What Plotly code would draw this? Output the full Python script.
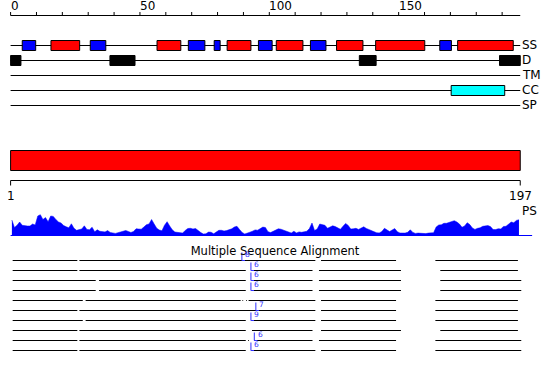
import plotly.graph_objects as go

# ---------------- data ----------------
SEQ_LEN = 197
TOP_TICK_LABELS = [0, 50, 100, 150]
TOP_MINOR_STEP = 10

TRACK_NAMES = ["SS", "D", "TM", "CC", "SP"]
HELIX = [(15.6, 26.7), (56.6, 65.8), (83.7, 92.9), (102.7, 113.0),
         (126.0, 136.2), (141.1, 160.1), (172.8, 194.3)]
STRAND = [(4.5, 9.7), (30.8, 36.8), (68.7, 75.1), (78.7, 81.0),
          (95.8, 101.1), (115.9, 121.9), (165.9, 170.4)]
DISORDER = [(0.0, 4.0), (38.4, 48.1), (134.8, 141.3), (189.0, 197.0)]
TRANSMEM = []
COILED_COIL = [(170.3, 191.0)]
SIGNAL_PEPTIDE = []

DOMAIN_START, DOMAIN_END = 1, 197
DOMAIN_LABELS = ["1", "197"]
PS_LABEL = "PS"
PS_SCORE = [
    16.0, 8.5, 10.7, 14.0, 10.7, 10.0, 10.0, 10.0, 12.0, 11.0,
    20.0, 21.3, 16.5, 18.4, 14.2, 20.0, 19.6, 16.5, 14.1, 13.0,
    10.5, 9.2, 8.2, 12.2, 7.8, 5.7, 6.0, 7.0, 10.2, 6.6,
    6.3, 8.8, 4.2, 6.2, 4.7, 4.7, 4.1, 5.4, 3.6, 3.1,
    2.6, 3.3, 4.0, 4.7, 5.5, 4.6, 3.5, 4.5, 7.2, 7.0,
    6.8, 8.9, 11.3, 12.0, 16.5, 12.0, 7.7, 6.0, 5.3, 10.8,
    14.3, 10.0, 6.2, 4.0, 3.8, 3.2, 2.9, 5.6, 7.5, 7.7,
    7.0, 7.5, 5.2, 3.5, 2.0, 2.2, 3.9, 3.8, 2.2, 3.6,
    5.7, 5.7, 5.0, 5.4, 6.2, 7.2, 9.0, 9.7, 6.5, 3.6,
    2.0, 3.3, 3.8, 4.8, 6.1, 5.8, 7.2, 8.9, 8.5, 4.3,
    3.4, 4.6, 5.6, 7.2, 6.8, 5.8, 5.4, 4.0, 3.0, 4.7,
    3.1, 4.1, 3.7, 4.2, 4.8, 7.4, 13.0, 5.5, 7.0, 12.0,
    11.4, 10.7, 7.7, 9.0, 10.2, 9.4, 7.7, 6.7, 9.8, 12.6,
    10.6, 6.9, 7.2, 7.7, 6.6, 7.6, 9.2, 7.6, 6.5, 5.1,
    3.8, 3.2, 3.1, 4.4, 7.7, 5.8, 4.4, 6.0, 7.4, 4.3,
    3.0, 3.0, 2.9, 3.7, 6.2, 3.6, 2.6, 2.9, 2.6, 3.0,
    2.4, 2.9, 3.0, 3.3, 9.0, 11.0, 11.2, 12.7, 12.7, 13.5,
    15.0, 15.3, 14.0, 11.9, 8.7, 10.1, 13.3, 11.4, 8.0, 6.6,
    7.7, 8.2, 9.7, 9.7, 10.4, 9.4, 6.5, 6.4, 7.3, 7.1,
    9.5, 9.7, 11.6, 14.0, 13.2, 15.6, 16.3,
]

MSA_TITLE = "Multiple Sequence Alignment"
MSA_SEGMENTS = [
    [(0.8, 25.8), (26.6, 117.8), (120.0, 149.0), (164.2, 196.1)],
    [(0.8, 25.8), (26.6, 90.9), (92.9, 116.7), (119.2, 150.9), (166.1, 196.1)],
    [(0.8, 32.9), (34.2, 90.9), (92.9, 116.7), (119.2, 150.9), (166.1, 197.4)],
    [(0.8, 32.9), (34.2, 90.9), (92.9, 116.7), (119.2, 150.9), (166.1, 197.4)],
    [(0.8, 27.9), (29.0, 88.9), (89.6, 89.9), (91.0, 91.3), (92.0, 117.8),
     (120.0, 149.0), (164.2, 196.1)],
    [(0.8, 25.8), (26.6, 117.8), (120.0, 149.0), (164.2, 196.1)],
    [(0.8, 27.9), (29.0, 90.9), (92.9, 117.8), (120.0, 149.0), (164.2, 196.1)],
    [(0.8, 25.8), (26.6, 90.9), (93.3, 116.7), (120.0, 150.9), (166.1, 196.1)],
    [(0.8, 25.8), (26.6, 90.9), (91.8, 92.1), (94.2, 116.7), (119.2, 149.0),
     (164.2, 197.4)],
    [(0.8, 25.8), (26.6, 90.9), (92.9, 117.8), (120.0, 149.0), (164.2, 197.4)],
]
# (row index, residue position, insertion length)
MSA_INSERTIONS = [(0, 89.4, 8), (1, 92.9, 6), (2, 92.9, 6), (3, 92.9, 6),
                  (5, 94.8, 7), (6, 92.9, 9), (8, 94.2, 6), (9, 92.9, 6)]

# ---------------- layout constants (pixels) ----------------
W, H = 550, 380
X0_PX, PX_PER_RES = 10.6, 2.587
RULER_Y, TICK_LEN = 15.5, 3.5
TRACK_Y0, TRACK_STEP, BOX_HALF = 45.5, 15, 5
DOMAIN_Y0, DOMAIN_Y1 = 150.5, 170.5
LOWER_RULER_Y, LOWER_TICK = 180.5, 5
PS_BOTTOM_PX, PS_TOP_PX = 236, 206
PS_BASELINE_END = 201.6
MSA_Y0, MSA_STEP = 260.5, 10
INS_H, INS_FOOT = 8, 1.2
FONT = "DejaVu Sans"

fig = go.Figure()


def lines(segs, color, yaxis="y", width=1):
    xs, ys = [], []
    for x0, y0, x1, y1 in segs:
        xs += [x0, x1, None]
        ys += [y0, y1, None]
    fig.add_trace(go.Scatter(x=xs, y=ys, mode="lines", yaxis=yaxis,
                             line=dict(color=color, width=width),
                             hoverinfo="skip", showlegend=False))


def label(x, y, text, xanchor="left", size=12, color="black", xshift=0):
    fig.add_annotation(x=x, y=y, xref="x", yref="y", text=text,
                       showarrow=False, xanchor=xanchor, yanchor="middle",
                       xshift=xshift, font=dict(family=FONT, size=size, color=color))


# top ruler
ruler = [(0, RULER_Y, SEQ_LEN, RULER_Y)]
ruler += [(t, RULER_Y, t, RULER_Y - TICK_LEN) for t in range(0, SEQ_LEN, TOP_MINOR_STEP)]
lines(ruler, "black")
for t in TOP_TICK_LABELS:
    label(t, 5.5, str(t), xshift=-2)

# feature tracks
track_y = {n: TRACK_Y0 + i * TRACK_STEP for i, n in enumerate(TRACK_NAMES)}
lines([(0, y, SEQ_LEN, y) for y in track_y.values()], "black")
for n, y in track_y.items():
    label(SEQ_LEN, y - 0.5, n)


def boxes(feats, track, color):
    y = track_y[track]
    for a, b in feats:
        fig.add_shape(type="rect", xref="x", yref="y", x0=a, x1=b,
                      y0=y - BOX_HALF, y1=y + BOX_HALF, fillcolor=color,
                      line=dict(color="black", width=1), layer="above")


boxes(HELIX, "SS", "#ff0000")
boxes(STRAND, "SS", "#0000ff")
boxes(DISORDER, "D", "#000000")
boxes(TRANSMEM, "TM", "#00ff00")
boxes(COILED_COIL, "CC", "#00ffff")
boxes(SIGNAL_PEPTIDE, "SP", "#ff00ff")

# domain bar and lower ruler
fig.add_shape(type="rect", xref="x", yref="y", x0=DOMAIN_START - 1, x1=DOMAIN_END,
              y0=DOMAIN_Y0, y1=DOMAIN_Y1, fillcolor="#ff0000",
              line=dict(color="black", width=1), layer="above")
lines([(DOMAIN_START - 1, LOWER_RULER_Y, DOMAIN_END, LOWER_RULER_Y),
       (DOMAIN_START - 1, LOWER_RULER_Y, DOMAIN_START - 1, LOWER_RULER_Y + LOWER_TICK),
       (DOMAIN_END, LOWER_RULER_Y, DOMAIN_END, LOWER_RULER_Y + LOWER_TICK)], "black")
label(DOMAIN_START - 1, 195.5, DOMAIN_LABELS[0], xanchor="center")
label(DOMAIN_END, 195.5, DOMAIN_LABELS[1], xanchor="center")
label(DOMAIN_END, 210.5, PS_LABEL)

# PS profile (own y axis, 1 unit = 1 px)
fig.add_trace(go.Scatter(x=[i + 0.5 for i in range(len(PS_SCORE))], y=PS_SCORE,
                         yaxis="y2", mode="lines", fill="tozeroy",
                         fillcolor="#0000ff", line=dict(color="#0000ff", width=0.5),
                         hoverinfo="skip", showlegend=False))
lines([(0, 0.5, PS_BASELINE_END, 0.5)], "#0000ff", yaxis="y2")

# multiple sequence alignment
msa = []
for r, segs in enumerate(MSA_SEGMENTS):
    y = MSA_Y0 + r * MSA_STEP
    msa += [(a, y, b, y) for a, b in segs]
lines(msa, "black")
ins = []
for r, pos, n in MSA_INSERTIONS:
    y = MSA_Y0 + r * MSA_STEP
    ins += [(pos, y, pos, y - INS_H), (pos, y, pos + INS_FOOT, y)]
    label(pos, y - 6, str(n), size=7.5, color="#3030ff", xshift=1.5)
lines(ins, "#3030ff")

fig.update_layout(
    width=W, height=H, autosize=False,
    margin=dict(l=0, r=0, t=0, b=0, pad=0),
    paper_bgcolor="white", plot_bgcolor="rgba(0,0,0,0)",
    xaxis=dict(range=[-X0_PX / PX_PER_RES, (W - X0_PX) / PX_PER_RES],
               visible=False, fixedrange=True),
    yaxis=dict(range=[H, 0], visible=False, fixedrange=True, domain=[0, 1]),
    yaxis2=dict(range=[0, PS_BOTTOM_PX - PS_TOP_PX], visible=False, anchor="x",
                domain=[(H - PS_BOTTOM_PX) / H, (H - PS_TOP_PX) / H], fixedrange=True),
    title=dict(text=MSA_TITLE, x=0.5, xanchor="center", xref="paper",
               y=1 - 251 / H, yanchor="middle", yref="paper",
               font=dict(family=FONT, size=11.5, color="black")),
    showlegend=False,
)

fig.write_html("out.html", config={"displayModeBar": False})
